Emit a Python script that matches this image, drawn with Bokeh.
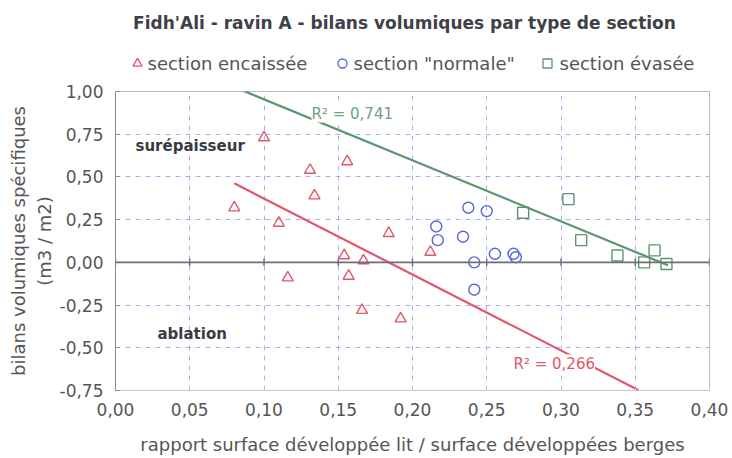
import numpy as np
from bokeh.plotting import figure
from bokeh.layouts import column
from bokeh.models import (Range1d, Span, Label, FixedTicker, CustomJSTickFormatter)
from bokeh.core.properties import value
from bokeh.embed import file_html
from bokeh.resources import INLINE

# ---------------- data ----------------
title_text = "Fidh'Ali - ravin A - bilans volumiques par type de section"
series_names = ["section encaissée", 'section "normale"', "section évasée"]
series_markers = ["triangle", "circle", "square"]

red_x = [0.080, 0.100, 0.110, 0.116, 0.131, 0.134, 0.154, 0.156, 0.157, 0.166, 0.167, 0.184, 0.192, 0.212]
red_y = [0.32, 0.73, 0.23, -0.09, 0.54, 0.39, 0.04, 0.59, -0.08, -0.28, 0.01, 0.17, -0.33, 0.06]

blue_x = [0.216, 0.217, 0.234, 0.2376, 0.2416, 0.2416, 0.250, 0.2555, 0.268, 0.2696]
blue_y = [0.21, 0.13, 0.15, 0.32, 0.00, -0.16, 0.30, 0.05, 0.05, 0.03]

green_x = [0.2745, 0.305, 0.3136, 0.338, 0.356, 0.363, 0.371]
green_y = [0.29, 0.37, 0.13, 0.04, 0.00, 0.07, -0.01]

red_trend_extent = [0.080, 0.352]
green_trend_extent = [0.050, 0.372]
r2_labels = ["R² = 0,266", "R² = 0,741"]

x_ticks = [0.00, 0.05, 0.10, 0.15, 0.20, 0.25, 0.30, 0.35, 0.40]
y_ticks = [-0.75, -0.50, -0.25, 0.00, 0.25, 0.50, 0.75, 1.00]

# ---------------- styling ----------------
FONT = "DejaVu Sans"
RED = "#e2566a"
BLUE = "#5566d6"
GREEN = "#5d9470"
GRID = "#8d9ae0"
TXT = "#555555"
series_colors = [RED, BLUE, GREEN]

W, H = 732, 458
HEAD = 76
L, R, T, B = 115, 23, 91, 68
XMIN, XMAX, YMIN, YMAX = 0.0, 0.40, -0.75, 1.0
fw, fh = W - L - R, H - T - B


def px_x(px):
    return XMIN + (px - L) / fw * (XMAX - XMIN)


def px_y(py):
    return YMAX - (py - T) / fh * (YMAX - YMIN)


# ---------------- header (title + legend), x range in page pixels ----------------
head = figure(width=W, height=HEAD, output_backend="svg", toolbar_location=None,
              x_range=Range1d(L, W - R), y_range=Range1d(HEAD, 0),
              min_border_left=L, min_border_right=R, min_border_top=0, min_border_bottom=0,
              x_axis_location=None, y_axis_location=None)
head.grid.visible = False
head.outline_line_color = None
head.background_fill_color = "white"
head.border_fill_color = "white"

head.text(x=[404], y=[22], text=[title_text], text_font=value(FONT), text_font_size="17px",
          text_font_style="bold", text_color="#404048", text_align="center",
          text_baseline="middle")

leg_marker_px = [137, 342, 547]
leg_text_px = [147, 353, 559]
for name, mk, col, mx, tx in zip(series_names, series_markers, series_colors,
                                 leg_marker_px, leg_text_px):
    head.scatter([mx], [63], marker=mk, size=9, fill_color=None, line_color=col, line_width=1.3)
    head.text(x=[tx], y=[63], text=[name], text_font=value(FONT), text_font_size="18px",
              text_color=TXT, text_align="left", text_baseline="middle")

# ---------------- main plot ----------------
p = figure(width=W, height=H - HEAD, output_backend="svg", toolbar_location=None,
           x_range=Range1d(XMIN, XMAX), y_range=Range1d(YMIN, YMAX),
           min_border_left=L, min_border_right=R, min_border_top=T - HEAD, min_border_bottom=B)
p.background_fill_color = "white"
p.border_fill_color = "white"
p.outline_line_color = "#b8bccc"
p.outline_line_width = 1

fmt = CustomJSTickFormatter(code="return tick.toFixed(2).replace('.', ',');")
for ax, ticks in ((p.xaxis[0], x_ticks), (p.yaxis[0], y_ticks)):
    ax.ticker = FixedTicker(ticks=ticks)
    ax.formatter = fmt
    ax.major_label_text_font = FONT
    ax.major_label_text_font_size = "17px"
    ax.major_label_text_color = TXT
    ax.axis_label_text_font = FONT
    ax.axis_label_text_font_size = "18px"
    ax.axis_label_text_font_style = "normal"
    ax.axis_label_text_color = TXT
    ax.minor_tick_line_color = None

p.yaxis.axis_line_color = "#8a8a96"
p.yaxis.major_tick_line_color = "#8a8a96"
p.yaxis.major_tick_in = 4
p.yaxis.major_tick_out = 0
p.yaxis.major_label_standoff = 12
p.yaxis.axis_label = "bilans volumiques spécifiques\n(m3 / m2)"
p.yaxis.axis_label_standoff = 2

p.xaxis.axis_line_color = "#c4c8d6"
p.xaxis.major_tick_line_color = "#c4c8d6"
p.xaxis.major_tick_in = 3
p.xaxis.major_tick_out = 0
p.xaxis.major_label_standoff = 12
p.xaxis.axis_label = "rapport surface développée lit / surface développées berges"
p.xaxis.axis_label_standoff = 15

p.xgrid.ticker = FixedTicker(ticks=x_ticks[1:-1])
p.ygrid.ticker = FixedTicker(ticks=[t for t in y_ticks if t not in (0.0, -0.75, 1.0)])
for g in (p.xgrid, p.ygrid):
    g.grid_line_color = GRID
    g.grid_line_dash = "5 5"
    g.grid_line_alpha = 0.75
    g.grid_line_width = 1

# zero line with crossing ticks
p.add_layout(Span(location=0, dimension="width", line_color="#6e6e78", line_width=1.6))
tick_half = 0.022
p.segment(x0=x_ticks, x1=x_ticks, y0=[-tick_half] * len(x_ticks), y1=[tick_half] * len(x_ticks),
          line_color="#6e6e78", line_width=1.4)

# trend lines (least squares fits of each series)
rs, ri = np.polyfit(red_x, red_y, 1)
gs, gi = np.polyfit(green_x, green_y, 1)
rx = np.array(red_trend_extent)
gx = np.array(green_trend_extent)
p.line(rx, rs * rx + ri, line_color=RED, line_width=2.2)
p.line(gx, gs * gx + gi, line_color=GREEN, line_width=2.2)

# points
p.scatter(red_x, red_y, marker="triangle", size=11, fill_color=None,
          line_color=RED, line_width=1.4)
p.scatter(blue_x, blue_y, marker="circle", size=11, fill_color=None,
          line_color=BLUE, line_width=1.4)
p.scatter(green_x, green_y, marker="square", size=11, fill_color=None,
          line_color=GREEN, line_width=1.4)

# R2 labels
p.add_layout(Label(x=px_x(513), y=px_y(363), text=r2_labels[0], text_color=RED,
                   text_font=FONT, text_font_size="15px", text_baseline="middle",
                   background_fill_color="white", background_fill_alpha=1.0))
p.add_layout(Label(x=px_x(311), y=px_y(113), text=r2_labels[1], text_color="#6fa283",
                   text_font=FONT, text_font_size="15px", text_baseline="middle",
                   background_fill_color="white", background_fill_alpha=1.0))

# zone annotations
p.add_layout(Label(x=px_x(135), y=px_y(145), text="surépaisseur", text_color="#3a3a44",
                   text_font=FONT, text_font_size="15px", text_font_style="bold",
                   text_baseline="middle"))
p.add_layout(Label(x=px_x(157), y=px_y(333), text="ablation", text_color="#3a3a44",
                   text_font=FONT, text_font_size="15px", text_font_style="bold",
                   text_baseline="middle"))

layout = column(head, p, spacing=0)
open("out.html", "w").write(file_html(layout, INLINE))
